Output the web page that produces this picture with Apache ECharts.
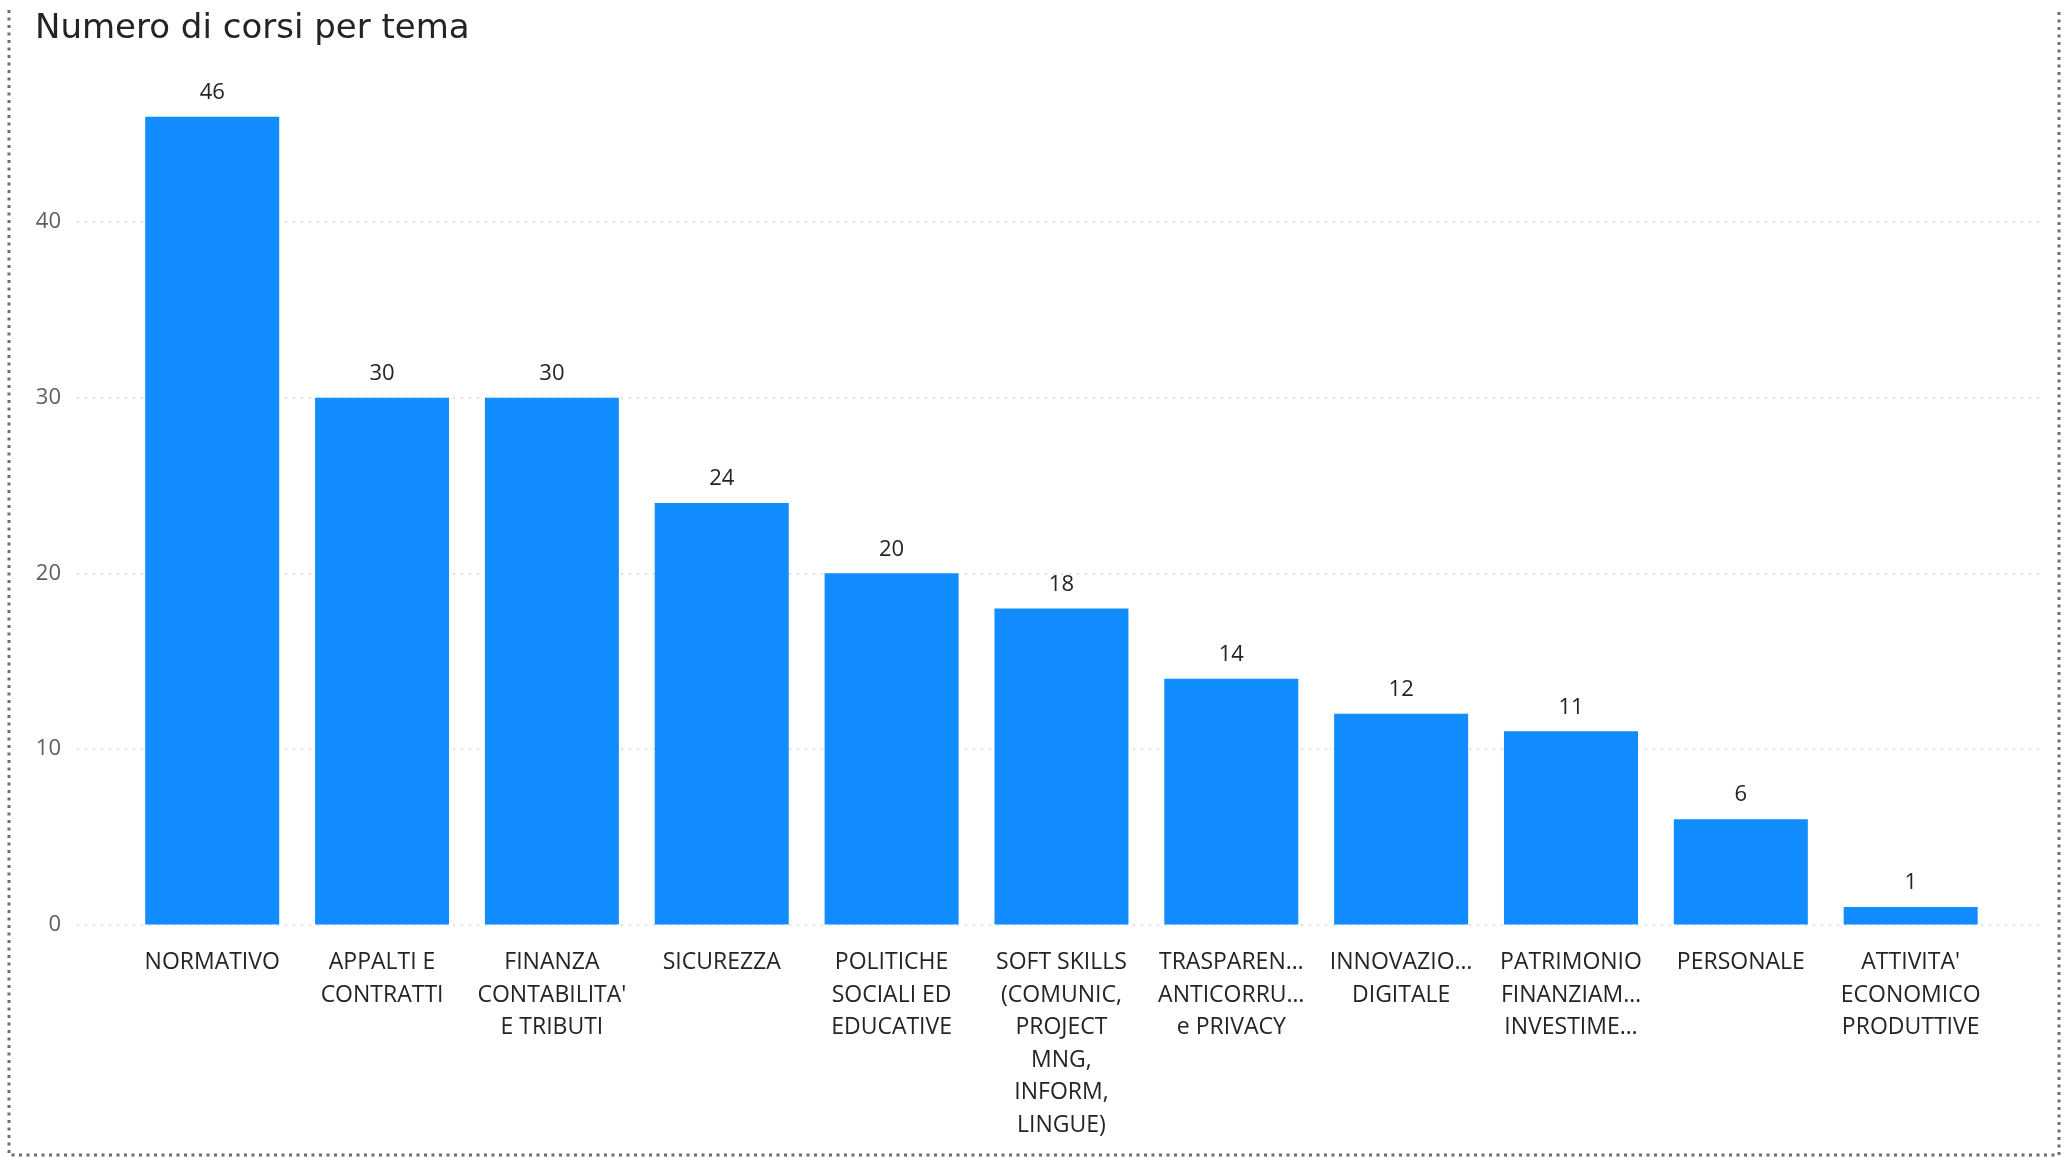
<!DOCTYPE html>
<html>
<head>
<meta charset="utf-8">
<script src="https://cdn.jsdelivr.net/npm/echarts@6/dist/echarts.min.js"></script>
<style>
html,body{margin:0;padding:0;background:#fff;}
#chart{width:2067px;height:1157px;}
</style>
</head>
<body>
<div id="chart"></div>
<script>
const title = 'Numero di corsi per tema';
const categories = [
  'NORMATIVO',
  'APPALTI E\nCONTRATTI',
  "FINANZA\nCONTABILITA'\nE TRIBUTI",
  'SICUREZZA',
  'POLITICHE\nSOCIALI ED\nEDUCATIVE',
  'SOFT SKILLS\n(COMUNIC,\nPROJECT\nMNG,\nINFORM,\nLINGUE)',
  'TRASPAREN…\nANTICORRU…\ne PRIVACY',
  'INNOVAZIO…\nDIGITALE',
  'PATRIMONIO\nFINANZIAM…\nINVESTIME…',
  'PERSONALE',
  "ATTIVITA'\nECONOMICO\nPRODUTTIVE"
];
const values = [46, 30, 30, 24, 20, 18, 14, 12, 11, 6, 1];
const yTicks = [0, 10, 20, 30, 40];
const yMax = 50;
const yStep = 10;

const chart = echarts.init(document.getElementById('chart'), null, {renderer: 'canvas'});
const TOP = 46.5, BOTTOM = 232.5;
chart.setOption({
  animation: false,
  backgroundColor: '#ffffff',
  title: {
    text: title,
    left: 35, top: 12, padding: 0,
    textStyle: {fontFamily: 'DejaVu Sans', fontSize: 34, fontWeight: 'normal', color: '#252423'}
  },
  graphic: [{
    type: 'polyline',
    shape: {points: [[9, 10], [9, 1155], [2059, 1155], [2059, 10]]},
    style: {stroke: '#6e6e6e', lineWidth: 3, lineDash: [3, 4.5], fill: null},
    silent: true
  }],
  grid: [
    {left: 77, right: 23, top: TOP, bottom: BOTTOM, outerBoundsMode: 'none', containLabel: false},
    {left: 127.3, right: 71.4, top: TOP, bottom: BOTTOM, outerBoundsMode: 'none', containLabel: false}
  ],
  xAxis: [
    {gridIndex: 0, type: 'value', min: 0, max: 1, show: false},
    {
      gridIndex: 1, type: 'category', data: categories,
      axisLine: {show: false}, axisTick: {show: false},
      axisLabel: {
        interval: 0, margin: 22, color: '#252423',
        fontFamily: 'Open Sans', fontSize: 23, lineHeight: 32.5, align: 'center'
      }
    }
  ],
  yAxis: [
    {
      gridIndex: 0, type: 'value', min: 0, max: yMax, interval: yStep,
      axisLine: {show: false}, axisTick: {show: false},
      axisLabel: {
        margin: 16, color: '#605E5C', fontFamily: 'Open Sans', fontSize: 22,
        showMaxLabel: false,
        formatter: v => (yTicks.indexOf(v) >= 0 ? String(v) : '')
      },
      splitLine: {show: true, showMaxLine: false, lineStyle: {color: '#d6d6d6', width: 1.5, type: [2, 6]}}
    },
    {gridIndex: 1, type: 'value', min: 0, max: yMax, interval: yStep, show: false, splitLine: {show: false}}
  ],
  series: [{
    type: 'bar',
    xAxisIndex: 1, yAxisIndex: 1,
    data: values,
    barWidth: 134,
    itemStyle: {color: '#118DFF'},
    label: {
      show: true, position: 'top', distance: 13,
      color: '#252423', fontFamily: 'Open Sans', fontSize: 22
    }
  }]
});
</script>
</body>
</html>
